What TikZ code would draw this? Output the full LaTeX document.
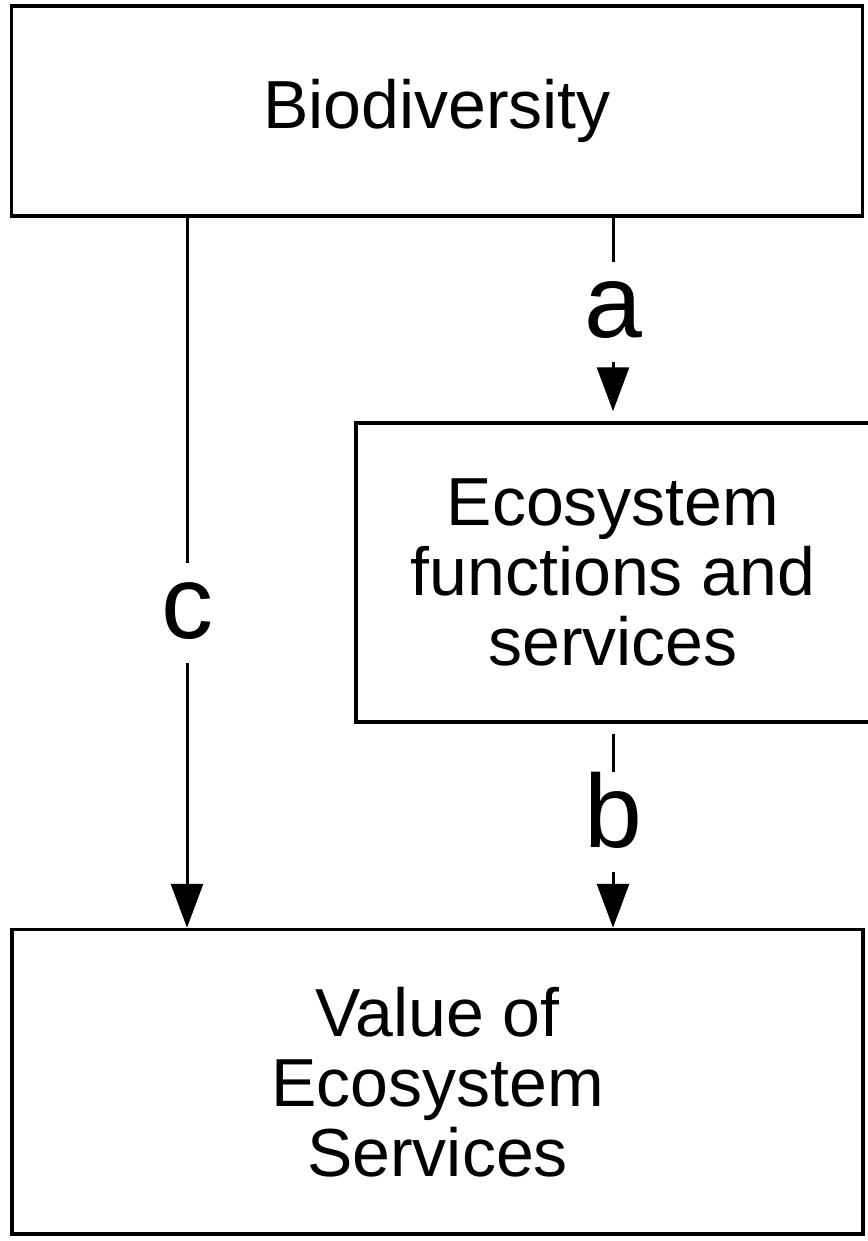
\documentclass[tikz,border=0pt]{standalone}
\usepackage{fontspec}
\setmainfont{Liberation Sans}
\usepackage{xcolor}
\usepackage{tikz}
\usetikzlibrary{arrows.meta}

\begin{document}
\begin{tikzpicture}[x=1pt,y=-1pt,
  box/.style={draw, line width=3.5pt, inner sep=0pt, align=center,
    font=\fontsize{68}{70}\selectfont},
  lab/.style={inner sep=0pt, text height=75pt, text depth=25pt,
    font=\fontsize{104}{110}\selectfont},
  flow/.style={line width=3pt},
  arr/.style={flow, -{Triangle[width=32pt,length=44pt]}}]
\useasboundingbox (0,0) rectangle (867,1241);
%draw boxes
\node[box, minimum width=851pt, minimum height=210pt] (bio) at (437,111) {Biodiversity};
\node[box, minimum width=514pt, minimum height=299pt] (eco) at (613,572.5) {Ecosystem\\functions and\\services};
\node[box, minimum width=851pt, minimum height=304.5pt] (vos) at (437.5,1081.75) {Value of\\Ecosystem\\Services};
%draw labels
\node[lab] (la) at (613,312) {a};
\node[lab] (lb) at (613,822) {b};
\node[lab] (lc) at (187,613) {c};
%draw arrows
\draw[flow] (bio.south -| la) -- (la.north);
\draw[arr, shorten >=10pt] (la.south) -- (la.south |- eco.north);
\draw[flow, shorten <=10pt] (eco.south -| lb) -- (lb.north);
\draw[arr] (lb.south) -- (lb.south |- vos.north);
\draw[flow] (bio.south -| lc) -- (lc.north);
\draw[arr] (lc.south) -- (lc.south |- vos.north);
\end{tikzpicture}
\end{document}
